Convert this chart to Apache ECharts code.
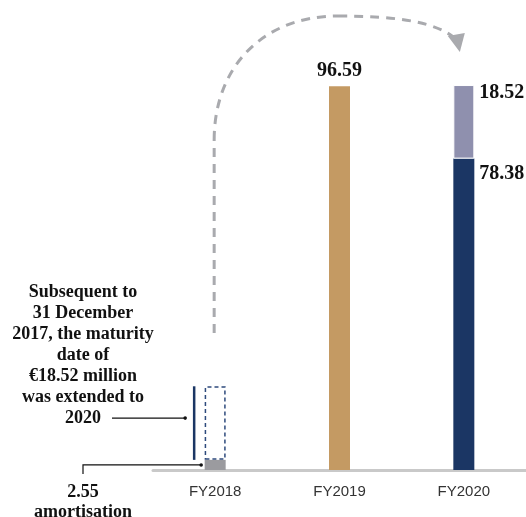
<!DOCTYPE html>
<html>
<head>
<meta charset="utf-8">
<script src="https://cdn.jsdelivr.net/npm/echarts@6/dist/echarts.min.js"></script>
<style>
  html, body { margin: 0; padding: 0; background: #fff; }
  #chart { width: 526px; height: 517px; }
</style>
</head>
<body>
<div id="chart"></div>
<script>
// Debt maturity profile, € million
const categories = ['FY2018', 'FY2019', 'FY2020'];
const amortisation = [2.55, null, null];
const extendedMaturity = [18.52, null, null];   // moved from FY2018 to FY2020
const fy2019Maturity = [null, 96.59, null];
const fy2020Original = [null, null, 78.38];
const fy2020Extended = [null, null, 18.52];

const noteLines = ['Subsequent to', '31 December', '2017, the maturity', 'date of', '€18.52 million', 'was extended to', '2020'];
const amortLines = ['2.55', 'amortisation'];

const SERIF = '"Liberation Serif", "DejaVu Serif", serif';
const NAVY = '#1B3664';
const GOLD = '#C49A63';
const LILAC = '#8F90AE';
const GREY = '#9B9B9F';
const ARROW = '#A9AAAE';

const chart = echarts.init(document.getElementById('chart'));

const valueLabel = {
  show: true,
  fontFamily: SERIF,
  fontWeight: 'bold',
  fontSize: 20,
  color: '#111'
};

chart.setOption({
  animation: false,
  grid: { left: 153, width: 376, top: 33, bottom: 47 },
  xAxis: {
    type: 'category',
    data: categories,
    axisLine: { lineStyle: { color: '#C9C9C9', width: 3 } },
    axisTick: { show: false },
    axisLabel: { color: '#333', fontFamily: '"Liberation Sans", Arial, sans-serif', fontSize: 15, margin: 14 }
  },
  yAxis: { type: 'value', min: 0, max: 110, show: false, splitLine: { show: false } },
  series: [
    {
      name: 'Amortisation', type: 'bar', stack: 'total', barWidth: 21,
      data: amortisation,
      itemStyle: { color: GREY }
    },
    {
      name: 'Extended', type: 'bar', stack: 'total', barWidth: 21,
      data: extendedMaturity,
      itemStyle: { color: 'rgba(0,0,0,0)', borderColor: '#2E4A7C', borderWidth: 1.5, borderType: [4, 3] }
    },
    {
      name: 'FY2019', type: 'bar', stack: 'total', barWidth: 21,
      data: fy2019Maturity,
      itemStyle: { color: GOLD },
      label: Object.assign({}, valueLabel, { position: 'top', distance: 5 })
    },
    {
      name: 'FY2020 original', type: 'bar', stack: 'total', barWidth: 21,
      data: fy2020Original,
      itemStyle: { color: NAVY },
      label: Object.assign({}, valueLabel, { position: ['100%', 0], align: 'left', verticalAlign: 'top', offset: [5, 5] })
    },
    {
      name: 'FY2020 extended', type: 'bar', stack: 'total', barWidth: 21,
      data: fy2020Extended,
      itemStyle: { color: LILAC, borderColor: '#fff', borderWidth: 1 },
      label: Object.assign({}, valueLabel, { position: ['100%', 0], align: 'left', verticalAlign: 'top', offset: [5, -2] })
    },
    {
      // vertical marker beside FY2018 spanning the extended amount
      name: 'Shift marker', type: 'custom',
      data: [[0, amortisation[0], amortisation[0] + extendedMaturity[0]]],
      renderItem: function (params, api) {
        const p0 = api.coord([api.value(0), api.value(1)]);
        const p1 = api.coord([api.value(0), api.value(2)]);
        const x = p0[0] - 21;
        return {
          type: 'line',
          shape: { x1: x, y1: p0[1], x2: x, y2: p1[1] },
          style: { stroke: NAVY, lineWidth: 2.5 }
        };
      },
      z: 3
    }
  ]
});

// Annotations: notes, connectors and the dashed arrow from FY2018 to FY2020
const base = chart.convertToPixel({ seriesIndex: 0 }, [0, 0]);
const amortTop = chart.convertToPixel({ seriesIndex: 0 }, [0, amortisation[0]]);
const extTop = chart.convertToPixel({ seriesIndex: 0 }, [0, amortisation[0] + extendedMaturity[0]]);
const fy20Top = chart.convertToPixel({ seriesIndex: 0 }, [2, fy2020Original[2] + fy2020Extended[2]]);

const markerX = base[0] - 21;
const pointerY = (amortTop[1] + extTop[1]) / 2 - 5;
const amortY = (base[1] + amortTop[1]) / 2 + 1;
const barLeft = base[0] - 11;
const noteX = 83;

const arcX = base[0] - 1;
const tipX = fy20Top[0] - 5;
const tipY = fy20Top[1] - 33;
const dashed = { stroke: ARROW, lineWidth: 3, fill: null, lineDash: [9, 7] };

chart.setOption({
  graphic: [
    {
      type: 'text',
      style: {
        text: noteLines.join('\n'), x: noteX, y: 282,
        font: 'bold 18px ' + SERIF, fill: '#111', textAlign: 'center', lineHeight: 21
      }
    },
    {
      type: 'line',
      shape: { x1: 112, y1: pointerY, x2: markerX - 9, y2: pointerY },
      style: { stroke: '#111', lineWidth: 1.2 }
    },
    {
      type: 'circle', shape: { cx: markerX - 9, cy: pointerY, r: 1.8 },
      style: { fill: '#111' }
    },
    {
      type: 'text',
      style: {
        text: amortLines.join('\n'), x: noteX, y: 482,
        font: 'bold 18px ' + SERIF, fill: '#111', textAlign: 'center', lineHeight: 20
      }
    },
    {
      type: 'polyline',
      shape: { points: [[noteX, 474], [noteX, amortY - 1], [barLeft - 3, amortY - 1]] },
      style: { stroke: '#111', lineWidth: 1.2, fill: null }
    },
    {
      type: 'circle', shape: { cx: barLeft - 3, cy: amortY - 1, r: 1.8 },
      style: { fill: '#111' }
    },
    {
      type: 'line',
      shape: { x1: arcX, y1: 333, x2: arcX, y2: 140 },
      style: dashed
    },
    {
      type: 'bezierCurve',
      shape: { x1: arcX, y1: 140, cpx1: arcX, cpy1: 68, cpx2: 262, cpy2: 16, x2: 338, y2: 16 },
      style: dashed
    },
    {
      type: 'bezierCurve',
      shape: { x1: 338, y1: 16, cpx1: 398, cpy1: 16, cpx2: 438, cpy2: 22, x2: tipX - 2, y2: tipY - 12 },
      style: dashed
    },
    {
      type: 'polygon',
      shape: { points: [[tipX - 11, tipY - 16], [tipX + 6, tipY - 19], [tipX + 1, tipY]] },
      style: { fill: ARROW }
    }
  ]
});
</script>
</body>
</html>
